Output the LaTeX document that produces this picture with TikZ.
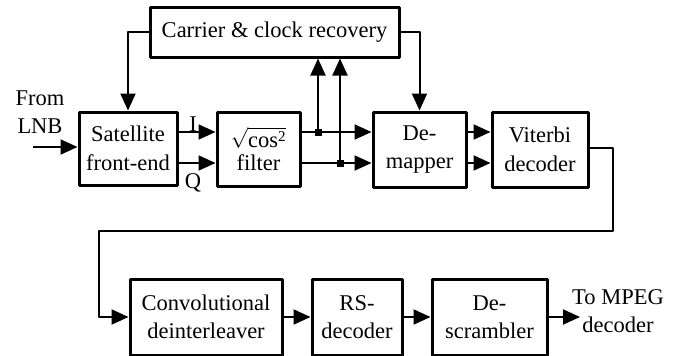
\documentclass[tikz,border=0pt]{standalone}
\usepackage{fontspec}
\setmainfont{Liberation Serif}
\usetikzlibrary{arrows.meta,positioning}

\begin{document}
\begin{tikzpicture}[x=1pt, y=-1pt, line join = round,
    block/.style={draw, line width=3pt, align=center, inner sep=0pt,
                  font=\fontsize{22.5}{28.5}\selectfont},
    sig/.style={line width=2pt, -{Triangle[length=17pt,width=15pt]}},
    txt/.style={align=center, inner sep=0pt, font=\fontsize{22.5}{28.5}\selectfont}]

                  \useasboundingbox (0,0) rectangle (688,356);

                  % first row
                  \node[block, minimum width=249pt, minimum height=50pt] (car) at (274.5,32) {Carrier \& clock recovery};
                  \node[block, minimum width=98pt, minimum height=73pt] (sat) at (128,148.5) {Satellite\\front-end};
                  \node[block, minimum width=83pt, minimum height=74pt] (filt) at (258.5,149) {$\sqrt{\mbox{cos}^{\mbox{\fontsize{15}{15}\selectfont 2}}}$\\[-5pt]filter};
                  \node[block, minimum width=93pt, minimum height=75pt] (demap) at (419.5,149.5) {De-\\mapper};
                  \node[block, minimum width=96pt, minimum height=75pt] (vit) at (540,149.5) {Viterbi\\decoder};

                  % second row
                  \node[block, minimum width=152pt, minimum height=76pt] (conv) at (206,317) {Convolutional\\deinterleaver};
                  \node[block, minimum width=90pt, minimum height=76pt] (rs) at (357,317) {RS-\\decoder};
                  \node[block, minimum width=115pt, minimum height=76pt] (desc) at (489.5,317) {De-\\scrambler};

                  % labels
                  \node[txt] (lnb) at (40,112) {From\\LNB};
                  \node[txt] (mpeg) at (618,311) {To MPEG\\decoder};
                  \node[txt] (lblI) at (193,124) {I};
                  \node[txt] (lblQ) at (193,183) {Q};

                  % free ends and taps
                  \coordinate (in) at (33,147);
                  \coordinate (out) at (580,317);
                  \coordinate (tapI) at (318,132);
                  \coordinate (tapQ) at (340,163);
                  \coordinate (turn1) at (613,231);
                  \coordinate (turn2) at (99,231);

                  \begin{scope}
                    % input and I/Q paths
                    \draw[sig] (in) -- (in -| sat.west);
                    \draw[sig] (sat.east |- 0,132) -- (filt.west |- 0,132);
                    \draw[sig] (sat.east |- 0,163) -- (filt.west |- 0,163);
                    \draw[sig] (filt.east |- 0,132) -- (demap.west |- 0,132);
                    \draw[sig] (filt.east |- 0,163) -- (demap.west |- 0,163);
                    \draw[sig] (demap.east |- 0,132) -- (vit.west |- 0,132);
                    \draw[sig] (demap.east |- 0,163) -- (vit.west |- 0,163);
                    % recovery loop
                    \draw[sig] (tapI) -- (tapI |- car.south);
                    \draw[sig] (tapQ) -- (tapQ |- car.south);
                    \fill (tapI) +(-3.5,-3.5) rectangle +(3.5,3.5);
                    \fill (tapQ) +(-3.5,-3.5) rectangle +(3.5,3.5);
                    \draw[sig] (car.west) -| (sat.north);
                    \draw[sig] (car.east) -| (demap.north);
                    % to second row
                    \draw[sig] (vit.east |- 0,148) -| (turn1) -- (turn2) |- (conv.west);
                    \draw[sig] (conv) -- (rs);
                    \draw[sig] (rs) -- (desc);
                    \draw[sig] (desc.east) -- (out);
                  \end{scope}

                \end{tikzpicture}
\end{document}
